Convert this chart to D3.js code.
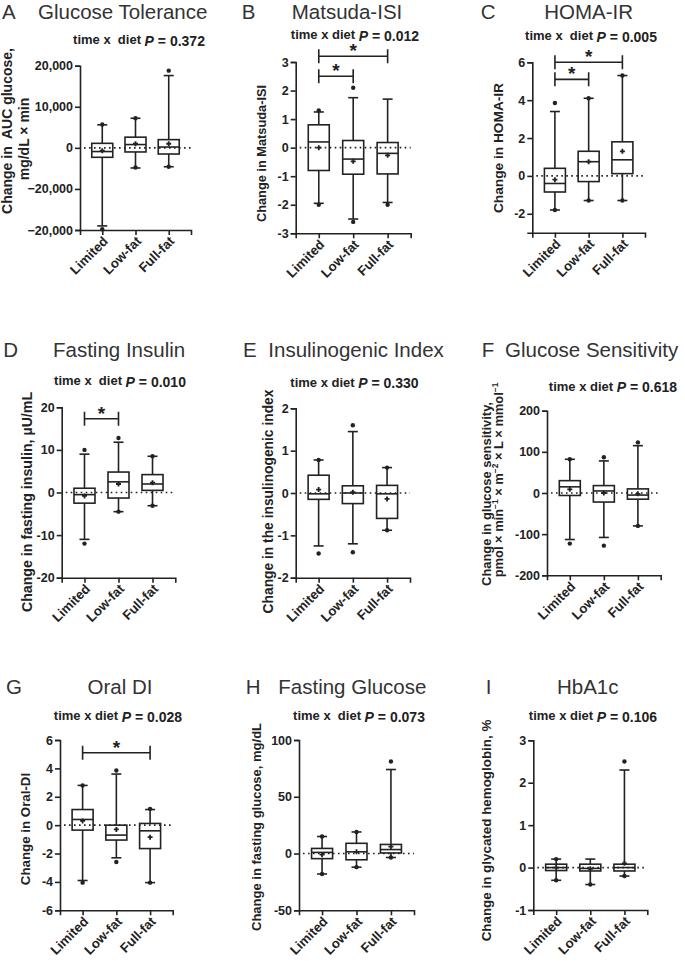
<!DOCTYPE html>
<html>
<head>
<meta charset="utf-8">
<script src="https://cdn.jsdelivr.net/npm/d3@7"></script>
<style>
  body { margin: 0; background: #fff; }
  svg { display: block; font-family: "Liberation Sans", Arial, sans-serif; }
  text { white-space: pre; }
</style>
</head>
<body>
<svg id="chart" width="685" height="961"></svg>
<script>
const categories = ["Limited", "Low-fat", "Full-fat"];

// per group: [whiskerLow, q1, median, q3, whiskerHigh, mean]
const glucoseTolerance = [[-19000, -2300, -900, 1100, 5600, -700], [-4900, -1000, 800, 2600, 7200, 1000], [-4600, -1500, 200, 2000, 17600, 1000]];
const glucoseTolerancePts = [[5700, -19800], [7200, -4800], [18800, -4600]];
const matsuda = [[-1.95, -0.8, 0.2, 0.8, 1.25, 0.0], [-2.5, -0.93, -0.4, 0.25, 1.75, -0.48], [-1.92, -0.92, -0.2, 0.18, 1.7, -0.27]];
const matsudaPts = [[1.3, -2.0], [2.1, -2.6], [-2.0]];
const homa = [[-1.8, -0.85, -0.4, 0.4, 3.4, -0.2], [-1.3, -0.3, 0.75, 1.3, 4.1, 0.75], [-1.3, 0.12, 0.85, 1.8, 5.3, 1.3]];
const homaPts = [[3.85, -1.8], [4.1, -1.3], [5.3, -1.3]];
const fastingInsulin = [[-11, -2.5, -0.5, 1, 9, -0.8], [-4.5, -1.3, 2.5, 4.8, 11.8, 2], [-3.1, 0.5, 2, 4.2, 8.5, 2.3]];
const fastingInsulinPts = [[10, -12], [12.8, -4.5], [8.5, -3.1]];
const insulinogenic = [[-1.25, -0.15, -0.02, 0.42, 0.78, 0.08], [-1.2, -0.25, 0.0, 0.17, 1.45, 0.02], [-0.88, -0.6, -0.02, 0.18, 0.6, -0.14]];
const insulinogenicPts = [[0.78, -1.43], [1.6, -1.4], [0.6, -0.88]];
const sensitivity = [[-113, -6, 15, 30, 82, 9], [-108, -22, 5, 18, 78, 0], [-80, -15, -5, 10, 115, -2]];
const sensitivityPts = [[82, -123], [87, -128], [123, -80]];
const oralDI = [[-3.9, -0.35, 0.4, 1.1, 2.8, 0.3], [-2.3, -1.05, -0.7, 0.0, 3.6, -0.3], [-4.05, -1.65, -0.4, 0.12, 1.1, -0.85]];
const oralDIPts = [[2.8, -4.05], [3.85, -2.6], [1.15, -4.05]];
const fastingGlucose = [[-18, -4.5, 1, 4.5, 15, -1], [-12, -5.5, 1.5, 9, 19, 1.5], [-3.5, 0.5, 3.5, 8, 74, 6]];
const fastingGlucosePts = [[15, -18], [19, -12], [81, -3.5]];
const hba1c = [[-0.3, -0.07, 0.0, 0.08, 0.2, 0.0], [-0.4, -0.08, -0.02, 0.08, 0.2, -0.03], [-0.2, -0.08, 0.0, 0.08, 2.3, 0.1]];
const hba1cPts = [[0.2, -0.3], [-0.4], [2.5, -0.2]];

// tick values and labels
const ticksA = [-20000, -10000, 0, 10000, 20000];
const tickLabelsA = ["\u221220,000", "\u221220,000", "0", "10,000", "20,000"];
const ticksB = [-3, -2, -1, 0, 1, 2, 3];
const ticksC = [-2, 0, 2, 4, 6];
const ticksD = [-20, -10, 0, 10, 20];
const ticksE = [-2, -1, 0, 1, 2];
const ticksF = [-200, -100, 0, 100, 200];
const ticksG = [-6, -4, -2, 0, 2, 4, 6];
const ticksH = [-50, 0, 50, 100];
const ticksI = [-1, 0, 1, 2, 3];

// significance brackets: [from group, to group, y value]
const bracketsB = [[0, 2, 3.2], [0, 1, 2.5]];
const bracketsC = [[0, 2, 6.0], [0, 1, 5.1]];
const bracketsD = [[0, 1, 17.3]];
const bracketsG = [[0, 2, 5.1]];

const titles = ["Glucose Tolerance", "Matsuda-ISI", "HOMA-IR", "Fasting Insulin", "Insulinogenic Index", "Glucose Sensitivity", "Oral DI", "Fasting Glucose", "HbA1c"];
const pValues = ["0.372", "0.012", "0.005", "0.010", "0.330", "0.618", "0.028", "0.073", "0.106"];

const panels = [
  {letter: "A", stats: glucoseTolerance, pts: glucoseTolerancePts, domain: [-20000, 20000], ticks: ticksA, tickLabels: tickLabelsA, brackets: [], pre: "time x  diet ",
   ylab: [["Change in  AUC glucose,"], ["mg/dL \u00d7 min"]]},
  {letter: "B", stats: matsuda, pts: matsudaPts, domain: [-3, 3], ticks: ticksB, brackets: bracketsB, pre: "time x diet ",
   ylab: [["Change in Matsuda-ISI"]]},
  {letter: "C", stats: homa, pts: homaPts, domain: [-3, 6], ticks: ticksC, brackets: bracketsC, pre: "time x  diet ",
   ylab: [["Change in HOMA-IR"]]},
  {letter: "D", stats: fastingInsulin, pts: fastingInsulinPts, domain: [-20, 20], ticks: ticksD, brackets: bracketsD, pre: "time x  diet ",
   ylab: [["Change in fasting insulin, \u00b5U/mL"]]},
  {letter: "E", stats: insulinogenic, pts: insulinogenicPts, domain: [-2, 2], ticks: ticksE, brackets: [], pre: "time x diet ",
   ylab: [["Change in the insulinogenic index"]]},
  {letter: "F", stats: sensitivity, pts: sensitivityPts, domain: [-200, 200], ticks: ticksF, brackets: [], pre: "time x diet ",
   ylab: [["Change in glucose sensitivity,"], ["pmol \u00d7 min", "\u22121", " \u00d7 m", "\u22122", " \u00d7 L \u00d7 mmol", "\u22121"]]},
  {letter: "G", stats: oralDI, pts: oralDIPts, domain: [-6, 6], ticks: ticksG, brackets: bracketsG, pre: "time x diet ",
   ylab: [["Change in Oral-DI"]]},
  {letter: "H", stats: fastingGlucose, pts: fastingGlucosePts, domain: [-50, 100], ticks: ticksH, brackets: [], pre: "time x  diet ",
   ylab: [["Change in fasting glucose, mg/dL"]]},
  {letter: "I", stats: hba1c, pts: hba1cPts, domain: [-1, 3], ticks: ticksI, brackets: [], pre: "time x diet ",
   ylab: [["Change in glycated hemoglobin, %"]]}
];

// layout (pixel positions per panel)
const layout = [
  {x0: 80, x1: 191, yT: 65.7, yB: 230, letterX: 2, titleX: 38, titleAnchor: "start", titleY: 18.5, subX: 139, subY: 44, labX: [11.8, 28.5], labY: [131, 139], labFs: 14},
  {x0: 295.7, x1: 410.7, yT: 62, yB: 233.3, letterX: 241.7, titleX: 347, titleAnchor: "middle", titleY: 18.5, subX: 355, subY: 39, labX: [266], labY: [153.5], labFs: 12.8},
  {x0: 532.3, x1: 645, yT: 62.3, yB: 232.7, letterX: 480.7, titleX: 588.7, titleAnchor: "middle", titleY: 18.5, subX: 591, subY: 40, labX: [503.2], labY: [148], labFs: 13.7},
  {x0: 61.7, x1: 175.3, yT: 407.3, yB: 577.7, letterX: 3.3, titleX: 53, titleAnchor: "start", titleY: 357, subX: 120, subY: 385, labX: [32], labY: [502], labFs: 14.2},
  {x0: 295.7, x1: 410, yT: 408.3, yB: 577.7, letterX: 243, titleX: 268.3, titleAnchor: "start", titleY: 357, subX: 354.5, subY: 386.7, labX: [273.2], labY: [501.5], labFs: 13.8},
  {x0: 547, x1: 660.7, yT: 410.7, yB: 575.3, letterX: 481.7, titleX: 505, titleAnchor: "start", titleY: 357, subX: 613, subY: 390.7, labX: [491, 502.6], labY: [494, 480], labFs: 12.9},
  {x0: 60, x1: 172.7, yT: 740, yB: 910.3, letterX: 6, titleX: 120, titleAnchor: "middle", titleY: 694, subX: 118, subY: 720, labX: [30.3], labY: [829], labFs: 13.3},
  {x0: 299, x1: 414, yT: 740, yB: 910.3, letterX: 245.7, titleX: 278.3, titleAnchor: "start", titleY: 694, subX: 359, subY: 720, labX: [261], labY: [827], labFs: 13},
  {x0: 533.3, x1: 647.3, yT: 740.3, yB: 910, letterX: 485.7, titleX: 587.7, titleAnchor: "middle", titleY: 694, subX: 593, subY: 720, labX: [491.3], labY: [830.5], labFs: 13.4}
];

const ink = "#222";
const svg = d3.select("#chart");

panels.forEach((p, i) => {
  const L = layout[i];
  const g = svg.append("g");
  const x = d3.scalePoint().domain(categories).range([L.x0, L.x1]).padding(0.67);
  const y = d3.scaleLinear().domain(p.domain).range([L.yB, L.yT]);

  // title
  g.append("text").attr("x", L.letterX).attr("y", L.titleY)
    .attr("font-size", 20.5).attr("fill", "#333").text(p.letter);
  g.append("text").attr("x", L.titleX).attr("y", L.titleY).attr("text-anchor", L.titleAnchor)
    .attr("font-size", 20.5).attr("fill", "#333").text(titles[i]);

  // subtitle with P value
  const sub = g.append("text").attr("x", L.subX).attr("y", L.subY).attr("text-anchor", "middle")
    .attr("font-size", 13).attr("font-weight", "bold").attr("fill", ink);
  sub.append("tspan").text(p.pre);
  sub.append("tspan").attr("font-style", "italic").attr("font-size", 14).attr("dy", 1.5).text("P");
  sub.append("tspan").attr("font-size", 14).text(" = " + pValues[i]);

  // y axis
  const yAxis = d3.axisLeft(y).tickValues(p.ticks).tickSizeOuter(0).tickSize(5)
    .tickFormat((d, k) => p.tickLabels ? p.tickLabels[k] : String(d));
  const ya = g.append("g").attr("transform", `translate(${L.x0},0)`).call(yAxis);
  ya.select(".domain").attr("stroke", ink).attr("stroke-width", 1.6);
  ya.selectAll(".tick line").attr("stroke", ink).attr("stroke-width", 1.6);
  ya.selectAll(".tick text").attr("font-size", 12.5).attr("font-weight", "bold").attr("fill", ink)
    .attr("font-family", "Liberation Sans, Arial, sans-serif").attr("x", -7);

  // x axis
  const xAxis = d3.axisBottom(x).tickSizeOuter(0).tickSize(5);
  const xa = g.append("g").attr("transform", `translate(0,${L.yB})`).call(xAxis);
  xa.select(".domain").attr("stroke", ink).attr("stroke-width", 1.6);
  xa.selectAll(".tick line").attr("stroke", ink).attr("stroke-width", 1.6);
  xa.selectAll(".tick text").attr("font-size", 13.2).attr("font-weight", "bold").attr("fill", ink)
    .attr("font-family", "Liberation Sans, Arial, sans-serif")
    .attr("text-anchor", "end").attr("dy", null).attr("y", 0)
    .attr("transform", "translate(6,12) rotate(-45)");

  // y label
  p.ylab.forEach((parts, li) => {
    const t = g.append("text")
      .attr("transform", `translate(${L.labX[li]},${L.labY[li]}) rotate(-90)`)
      .attr("text-anchor", "middle").attr("font-size", L.labFs).attr("font-weight", "bold").attr("fill", ink);
    parts.forEach((s, k) => {
      if (k % 2 === 1) t.append("tspan").attr("font-size", L.labFs * 0.65).attr("dy", -5).text(s);
      else t.append("tspan").attr("dy", k > 0 ? 5 : 0).text(s);
    });
  });

  // dotted zero line
  g.append("line").attr("x1", L.x0 + 4).attr("x2", L.x1).attr("y1", y(0)).attr("y2", y(0))
    .attr("stroke", ink).attr("stroke-width", 1.6).attr("stroke-dasharray", "1.6 3.4");

  // boxes
  const bw = 21, cw = 10;
  const grp = g.selectAll(".grp").data(p.stats).join("g")
    .attr("transform", (d, k) => `translate(${x(categories[k])},0)`);
  grp.append("line").attr("x1", 0).attr("x2", 0).attr("y1", d => y(d[4])).attr("y2", d => y(d[3]))
    .attr("stroke", ink).attr("stroke-width", 1.6);
  grp.append("line").attr("x1", 0).attr("x2", 0).attr("y1", d => y(d[1])).attr("y2", d => y(d[0]))
    .attr("stroke", ink).attr("stroke-width", 1.6);
  grp.append("line").attr("x1", -cw / 2).attr("x2", cw / 2).attr("y1", d => y(d[4])).attr("y2", d => y(d[4]))
    .attr("stroke", ink).attr("stroke-width", 1.6);
  grp.append("line").attr("x1", -cw / 2).attr("x2", cw / 2).attr("y1", d => y(d[0])).attr("y2", d => y(d[0]))
    .attr("stroke", ink).attr("stroke-width", 1.6);
  grp.append("rect").attr("x", -bw / 2).attr("width", bw)
    .attr("y", d => y(d[3])).attr("height", d => y(d[1]) - y(d[3]))
    .attr("fill", "none").attr("stroke", ink).attr("stroke-width", 1.6);
  grp.append("line").attr("x1", -bw / 2).attr("x2", bw / 2).attr("y1", d => y(d[2])).attr("y2", d => y(d[2]))
    .attr("stroke", ink).attr("stroke-width", 1.6);
  // mean "+"
  grp.append("path").attr("d", d => `M-2.5,${y(d[5])}H2.5M0,${y(d[5]) - 2.5}V${y(d[5]) + 2.5}`)
    .attr("stroke", ink).attr("stroke-width", 1.8);
  // points
  grp.each(function (d, k) {
    d3.select(this).selectAll("circle").data(p.pts[k]).join("circle")
      .attr("cx", 0).attr("cy", v => y(v)).attr("r", 2.2).attr("fill", ink);
  });

  // brackets
  p.brackets.forEach(b => {
    const xa0 = x(categories[b[0]]), xb0 = x(categories[b[1]]), yy = y(b[2]);
    g.append("path").attr("d", `M${xa0},${yy - 7}V${yy + 7}M${xa0},${yy}H${xb0}M${xb0},${yy - 7}V${yy + 7}`)
      .attr("fill", "none").attr("stroke", ink).attr("stroke-width", 1.6);
    g.append("text").attr("x", (xa0 + xb0) / 2).attr("y", yy + 1).attr("text-anchor", "middle")
      .attr("font-size", 19).attr("font-weight", "bold").attr("fill", ink).text("*");
  });
});
</script>
</body>
</html>
